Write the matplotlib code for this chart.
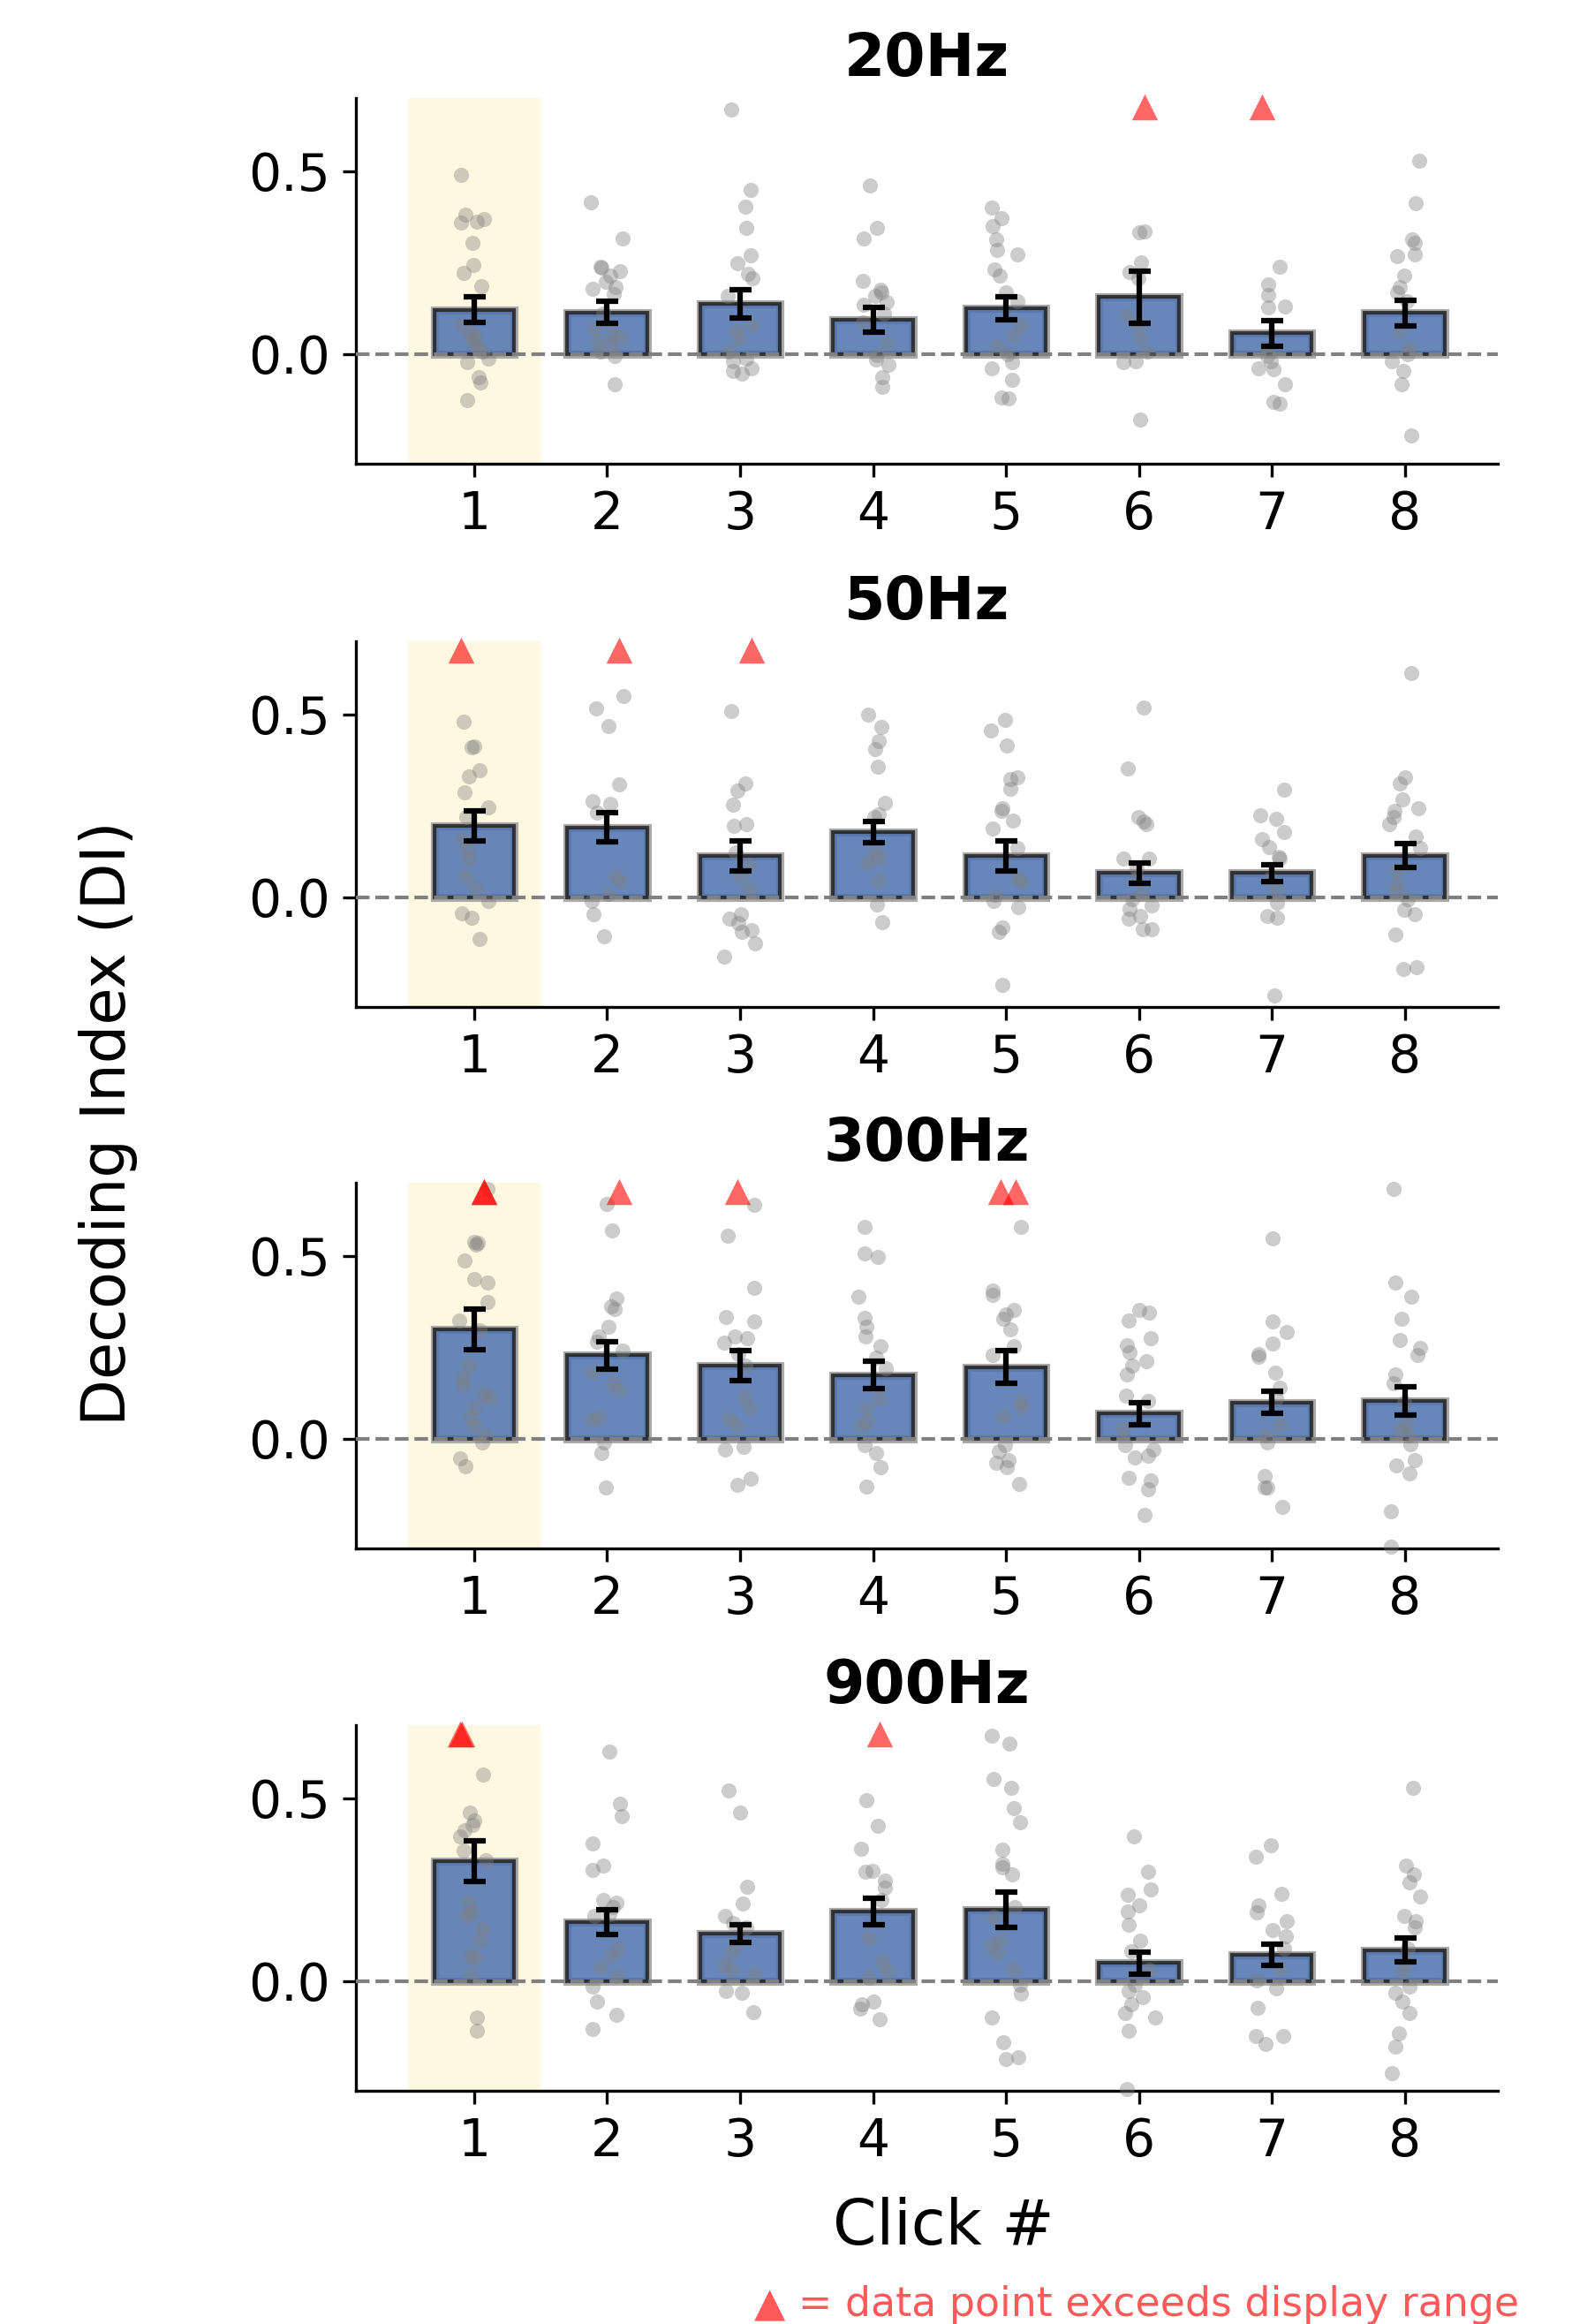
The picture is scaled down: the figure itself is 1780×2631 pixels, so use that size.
import numpy as np
import matplotlib
matplotlib.use('Agg')
import matplotlib.pyplot as plt

# === Data ===
freqs = ['20Hz', '50Hz', '300Hz', '900Hz']
clicks = [1, 2, 3, 4, 5, 6, 7, 8]

means_20 = [0.120, 0.113, 0.137, 0.093, 0.125, 0.155, 0.057, 0.112]
sems_20 = [0.035, 0.030, 0.038, 0.033, 0.032, 0.072, 0.035, 0.035]
means_50 = [0.195, 0.191, 0.114, 0.177, 0.114, 0.066, 0.066, 0.114]
sems_50 = [0.041, 0.040, 0.041, 0.029, 0.041, 0.027, 0.023, 0.033]
means_300 = [0.299, 0.228, 0.200, 0.174, 0.196, 0.069, 0.099, 0.103]
sems_300 = [0.056, 0.037, 0.040, 0.037, 0.044, 0.030, 0.030, 0.038]
means_900 = [0.328, 0.161, 0.130, 0.191, 0.195, 0.050, 0.072, 0.085]
sems_900 = [0.056, 0.034, 0.025, 0.036, 0.048, 0.030, 0.028, 0.032]

# individual subjects (values above 0.7 are outside the display range)
points_20 = [
    [0.49, 0.38, 0.368, 0.362, 0.36, 0.304, 0.242, 0.221, 0.186, 0.078, 0.06,
     0.046, 0.038, 0.019, 0.006, -0.014, -0.023, -0.063, -0.079, -0.127],
    [0.414, 0.316, 0.239, 0.235, 0.227, 0.215, 0.196, 0.183, 0.179, 0.164,
     0.11, 0.07, 0.054, 0.046, 0.034, 0.026, 0.006, -0.006, -0.083],
    [0.668, 0.448, 0.402, 0.344, 0.269, 0.249, 0.219, 0.207, 0.159, 0.078,
     0.064, 0.039, 0.007, -0.012, -0.019, -0.039, -0.047, -0.055],
    [0.46, 0.344, 0.315, 0.199, 0.176, 0.167, 0.159, 0.141, 0.134, 0.11,
     0.086, 0.03, -0.004, -0.016, -0.031, -0.063, -0.089],
    [0.40, 0.37, 0.349, 0.312, 0.283, 0.273, 0.231, 0.215, 0.168, 0.143,
     0.078, 0.05, 0.022, -0.002, -0.023, -0.039, -0.071, -0.119, -0.121],
    [0.75, 0.334, 0.332, 0.251, 0.223, 0.207, 0.106, 0.078, 0.046, 0.006,
     -0.019, -0.023, -0.18],
    [0.75, 0.239, 0.191, 0.16, 0.13, 0.126, 0.014, -0.006, -0.019, -0.039,
     -0.043, -0.083, -0.131, -0.135],
    [0.529, 0.411, 0.313, 0.304, 0.271, 0.267, 0.215, 0.183, 0.167, 0.143,
     0.062, 0.018, -0.002, -0.019, -0.047, -0.083, -0.222],
]
points_50 = [
    [0.75, 0.479, 0.412, 0.41, 0.348, 0.33, 0.287, 0.245, 0.219, 0.159, 0.13,
     0.106, 0.058, 0.026, -0.01, -0.043, -0.055, -0.115],
    [0.75, 0.549, 0.517, 0.467, 0.308, 0.263, 0.255, 0.231, 0.058, 0.042,
     0.01, -0.01, -0.047, -0.107],
    [0.75, 0.509, 0.312, 0.291, 0.253, 0.199, 0.196, 0.122, 0.09, 0.058,
     0.022, -0.047, -0.059, -0.071, -0.091, -0.095, -0.127, -0.163],
    [0.5, 0.465, 0.426, 0.406, 0.356, 0.258, 0.227, 0.219, 0.122, 0.106,
     0.094, 0.046, -0.019, -0.067],
    [0.486, 0.457, 0.414, 0.328, 0.324, 0.297, 0.243, 0.235, 0.209, 0.187,
     0.134, 0.05, 0.042, 0.006, -0.01, -0.027, -0.083, -0.095, -0.24],
    [0.519, 0.353, 0.219, 0.207, 0.199, 0.106, 0.106, 0.078, 0.05, 0.01,
     -0.006, -0.023, -0.031, -0.051, -0.059, -0.087, -0.087],
    [0.294, 0.223, 0.215, 0.177, 0.159, 0.137, 0.11, 0.106, 0.05, 0.018,
     -0.014, -0.051, -0.055, -0.268],
    [0.614, 0.328, 0.312, 0.267, 0.243, 0.235, 0.219, 0.199, 0.167, 0.134,
     0.074, 0.038, 0.014, -0.006, -0.035, -0.047, -0.103, -0.192, -0.196],
]
points_300 = [
    [0.75, 0.75, 0.683, 0.539, 0.536, 0.53, 0.488, 0.437, 0.427, 0.375, 0.323,
     0.296, 0.2, 0.167, 0.147, 0.123, 0.111, 0.087, 0.059, 0.035, 0.01,
     -0.01, -0.054, -0.076],
    [0.75, 0.643, 0.57, 0.383, 0.361, 0.354, 0.306, 0.28, 0.264, 0.242,
     0.184, 0.151, 0.134, 0.059, 0.053, -0.01, -0.038, -0.134],
    [0.75, 0.64, 0.554, 0.413, 0.333, 0.32, 0.28, 0.276, 0.262, 0.232, 0.2,
     0.115, 0.083, 0.055, 0.039, -0.022, -0.03, -0.11, -0.126],
    [0.58, 0.506, 0.496, 0.389, 0.33, 0.306, 0.28, 0.254, 0.222, 0.192,
     0.111, 0.083, 0.047, 0.035, -0.018, -0.038, -0.078, -0.13],
    [0.75, 0.75, 0.58, 0.405, 0.393, 0.353, 0.341, 0.328, 0.3, 0.252, 0.228,
     0.103, 0.087, 0.063, -0.018, -0.034, -0.058, -0.066, -0.078, -0.124],
    [0.353, 0.345, 0.324, 0.276, 0.256, 0.236, 0.212, 0.2, 0.176, 0.119,
     0.103, 0.027, -0.018, -0.03, -0.046, -0.05, -0.106, -0.114, -0.138,
     -0.207],
    [0.548, 0.32, 0.292, 0.26, 0.232, 0.224, 0.18, 0.139, 0.111, 0.039,
     0.01, -0.01, -0.102, -0.134, -0.134, -0.187],
    [0.684, 0.428, 0.389, 0.328, 0.27, 0.248, 0.228, 0.176, 0.151, 0.099,
     0.039, 0.023, 0.01, -0.014, -0.058, -0.074, -0.094, -0.199, -0.295],
]
points_900 = [
    [0.75, 0.75, 0.565, 0.462, 0.44, 0.428, 0.412, 0.396, 0.356, 0.33, 0.215,
     0.187, 0.179, 0.143, 0.11, 0.07, 0.062, 0.014, -0.099, -0.135],
    [0.628, 0.485, 0.452, 0.376, 0.316, 0.304, 0.223, 0.215, 0.203, 0.183,
     0.179, 0.09, 0.07, 0.038, 0.014, -0.014, -0.055, -0.091, -0.13],
    [0.521, 0.462, 0.259, 0.211, 0.179, 0.159, 0.147, 0.098, 0.074, 0.042,
     0.03, 0.018, -0.027, -0.031, -0.085],
    [0.75, 0.494, 0.424, 0.362, 0.301, 0.3, 0.275, 0.255, 0.223, 0.118, 0.054,
     0.026, 0.01, -0.055, -0.063, -0.075, -0.103],
    [0.67, 0.65, 0.552, 0.529, 0.473, 0.435, 0.36, 0.32, 0.312, 0.293, 0.203,
     0.175, 0.114, 0.098, 0.078, 0.034, -0.01, -0.035, -0.099, -0.166,
     -0.208, -0.214],
    [0.396, 0.298, 0.25, 0.237, 0.207, 0.191, 0.155, 0.11, 0.082, 0.03,
     -0.01, -0.027, -0.043, -0.063, -0.087, -0.099, -0.135, -0.296],
    [0.372, 0.34, 0.239, 0.207, 0.187, 0.163, 0.14, 0.122, 0.09, 0.034,
     0.002, -0.019, -0.072, -0.15, -0.151, -0.171],
    [0.529, 0.316, 0.293, 0.271, 0.231, 0.179, 0.163, 0.147, 0.09, 0.05,
     0.026, -0.014, -0.031, -0.055, -0.087, -0.143, -0.18, -0.252],
]

all_means = [means_20, means_50, means_300, means_900]
all_sems = [sems_20, sems_50, sems_300, sems_900]
all_points = [points_20, points_50, points_300, points_900]

# === Plot ===
YMIN, YMAX = -0.3, 0.7
rng = np.random.default_rng(3)

fig = plt.figure(figsize=(1780 / 300, 2631 / 300), dpi=300)
bottoms = [0.8005, 0.5667, 0.3337, 0.1003]

for i, freq in enumerate(freqs):
    ax = fig.add_axes([0.2264, bottoms[i], 0.7264, 0.1574])
    x = np.array(clicks)

    # highlight first click
    ax.axvspan(0.5, 1.5, color='#fff8e1', zorder=0, lw=0)

    # soft outline + main bars
    ax.bar(x, all_means[i], width=0.6, color='none', edgecolor='#aaaaaa',
           linewidth=2.2, zorder=1.9)
    ax.bar(x, all_means[i], width=0.6, color='#4c72b0', alpha=0.85,
           edgecolor='#222222', linewidth=1.0, zorder=2)
    ax.axhline(0, color='gray', ls='--', lw=1.0, zorder=3)

    for j, vals in enumerate(all_points[i]):
        vals = np.array(vals)
        jit = rng.uniform(-0.12, 0.12, size=len(vals))
        inside = vals <= YMAX
        ax.scatter(x[j] + jit[inside], vals[inside], s=17, color='gray',
                   alpha=0.4, lw=0, zorder=4, clip_on=False)
        if (~inside).any():
            ax.scatter(x[j] + jit[~inside], np.full((~inside).sum(), 0.675),
                       marker='^', s=50, color='red', alpha=0.6, lw=0,
                       zorder=6, clip_on=False)

    ax.errorbar(x, all_means[i], yerr=all_sems[i], fmt='none', ecolor='black',
                elinewidth=1.5, capsize=3, capthick=1.5, zorder=5)

    ax.set_xlim(0.11, 8.70)
    ax.set_ylim(YMIN, YMAX)
    ax.set_xticks(x)
    ax.set_xticklabels([str(c) for c in clicks])
    ax.set_yticks([0.0, 0.5])
    ax.set_yticklabels(['0.0', '0.5'])
    ax.tick_params(labelsize=14)
    ax.spines['top'].set_visible(False)
    ax.spines['right'].set_visible(False)
    ax.set_title(freq, fontsize=16, fontweight='bold')

fig.text(0.069, 1 - 1272 / 2631, 'Decoding Index (DI)', rotation=90,
         fontsize=16.5, ha='center', va='center')
fig.text(0.6, 1 - 2522 / 2631, 'Click #', fontsize=17, ha='center',
         va='center')
fig.text(0.9665, 1 - 2610 / 2631, '▲ = data point exceeds display range',
         fontsize=11, color='red', alpha=0.65, ha='right', va='center')

plt.savefig('out.png', dpi=300)
